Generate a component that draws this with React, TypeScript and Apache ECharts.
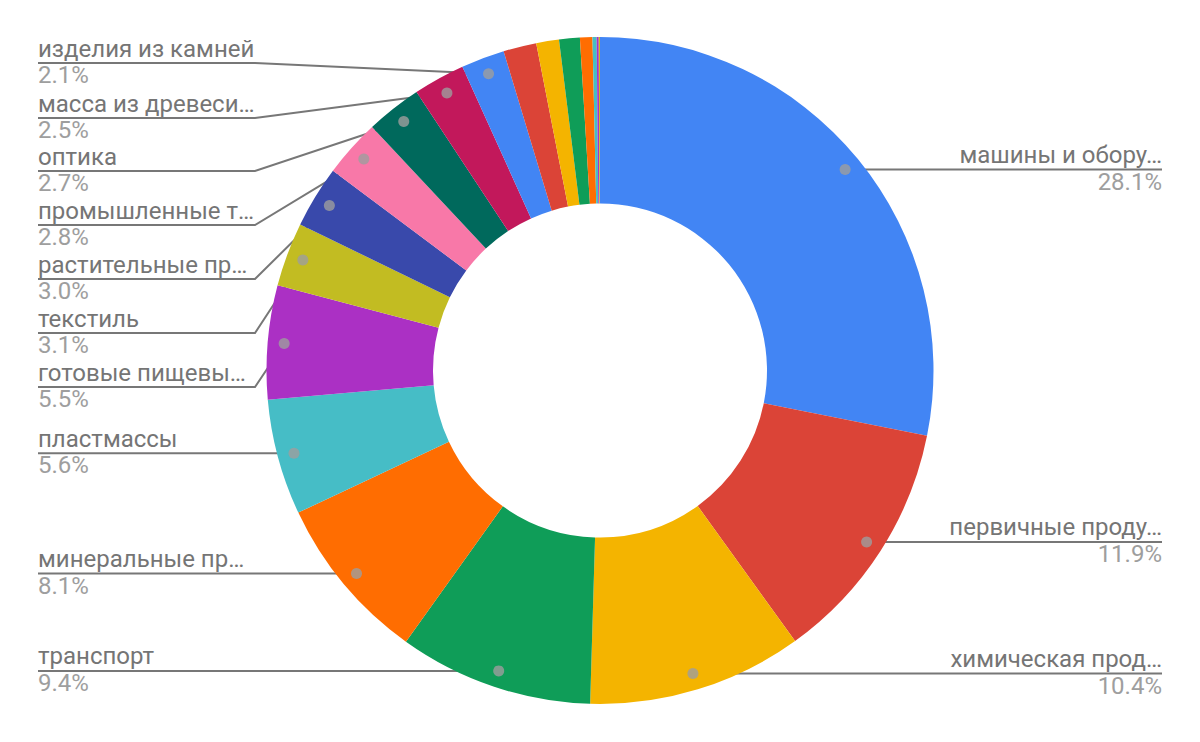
import React, { useEffect, useRef } from "react";
import * as echarts from "echarts";

// ---- data ----
const CATEGORIES = [
  "машины и обору…",
  "первичные проду…",
  "химическая прод…",
  "транспорт",
  "минеральные пр…",
  "пластмассы",
  "готовые пищевы…",
  "текстиль",
  "растительные пр…",
  "промышленные т…",
  "оптика",
  "масса из древеси…",
  "изделия из камней",
];
const VALUES = [28.1, 11.9, 10.4, 9.4, 8.1, 5.6, 5.5, 3.1, 3.0, 2.8, 2.7, 2.5, 2.1];
// unlabeled small slices
const SMALL_NAMES = ["прочее 1", "прочее 2", "прочее 3", "прочее 4", "прочее 5", "прочее 6", "прочее 7"];
const SMALL_VALUES = [1.6, 1.1, 1.0, 0.6, 0.2, 0.1, 0.06];

const COLORS = [
  "#4285f4", "#db4437", "#f4b400", "#0f9d58", "#ff6d01", "#46bdc6", "#ab30c4",
  "#c2bc22", "#3949ab", "#f878a8", "#00695c", "#c2185b",
  "#4285f4", "#db4437", "#f4b400", "#0f9d58", "#ff6d01", "#46bdc6", "#ab30c4", "#c2bc22",
];

// ---- layout ----
const CX = 600;
const CY = 370.5;
const R_OUT = 333.5;
const R_IN = 167;
const DOT_R = 317;
const LEFT_X = 38;
const RIGHT_X = 1162;
const BEND_X_LEFT = 255;
// stacked left labels (underline y)
const LABEL_Y_OVERRIDE: Record<number, number> = { 6: 387, 7: 333, 8: 279, 9: 225, 10: 171, 11: 118, 12: 63 };

export default function App() {
  const ref = useRef<HTMLDivElement>(null);
  useEffect(() => {
    document.body.style.margin = "0";
    const chart = echarts.init(ref.current!, undefined, { renderer: "svg" });
    const names = [...CATEGORIES, ...SMALL_NAMES];
    const values = [...VALUES, ...SMALL_VALUES];
    const total = values.reduce((a, b) => a + b, 0);
    const cum: number[] = [];
    let acc = 0;
    values.forEach((v) => { cum.push(acc); acc += v; });
    const mids = values.map((v, i) => cum[i] + v / 2);
    const dotPos = (i: number) => {
      const a = (2 * Math.PI * mids[i]) / total;
      return [CX + DOT_R * Math.sin(a), CY - DOT_R * Math.cos(a)];
    };
    const nLab = CATEGORIES.length;

    chart.setOption({
      animation: false,
      polar: { center: [CX, CY], radius: R_OUT },
      angleAxis: { type: "value", min: 0, max: total, startAngle: 90, clockwise: true, show: false },
      radiusAxis: { type: "value", min: 0, max: R_OUT, show: false },
      series: [
        {
          type: "pie",
          center: [CX, CY],
          radius: [R_IN, R_OUT],
          startAngle: 90,
          clockwise: true,
          avoidLabelOverlap: false,
          silent: true,
          emphasis: { disabled: true },
          itemStyle: { borderWidth: 0 },
          data: names.map((n, i) => ({
            name: n,
            value: values[i],
            itemStyle: { color: COLORS[i] },
            label: { show: i < nLab },
            labelLine: { show: i < nLab },
          })),
          label: {
            show: true,
            fontFamily: "Roboto",
            formatter: (p: any) => `{n|${p.name}}\n{p|${p.value.toFixed(1)}%}`,
            rich: {
              n: { fontFamily: "Roboto", fontSize: 24, color: "#757575", lineHeight: 27 },
              p: { fontFamily: "Roboto", fontSize: 24, color: "#9e9e9e", lineHeight: 26.5 },
            },
          },
          labelLine: { show: true, lineStyle: { color: "#777777", width: 2 } },
          labelLayout: (p: any) => {
            const i = p.dataIndex;
            if (i >= nLab) return {};
            const [dx, dy] = dotPos(i);
            const right = dx > CX;
            const ov = LABEL_Y_OVERRIDE[i];
            const y = ov != null ? ov : dy;
            const endX = right ? RIGHT_X : LEFT_X;
            const bendX = ov != null ? BEND_X_LEFT : dx;
            return {
              x: endX,
              y: y - 28,
              align: right ? "right" : "left",
              verticalAlign: "top",
              labelLinePoints: [[dx, dy], [bendX, y], [endX, y]],
            };
          },
        },
        {
          type: "scatter",
          coordinateSystem: "polar",
          silent: true,
          symbol: "circle",
          symbolSize: 11,
          z: 10,
          itemStyle: { color: "#9e9e9e" },
          data: VALUES.map((_, i) => [DOT_R, mids[i]]),
        },
      ],
    });
    return () => chart.dispose();
  }, []);
  return <div ref={ref} style={{ width: 1200, height: 742 }} />;
}
